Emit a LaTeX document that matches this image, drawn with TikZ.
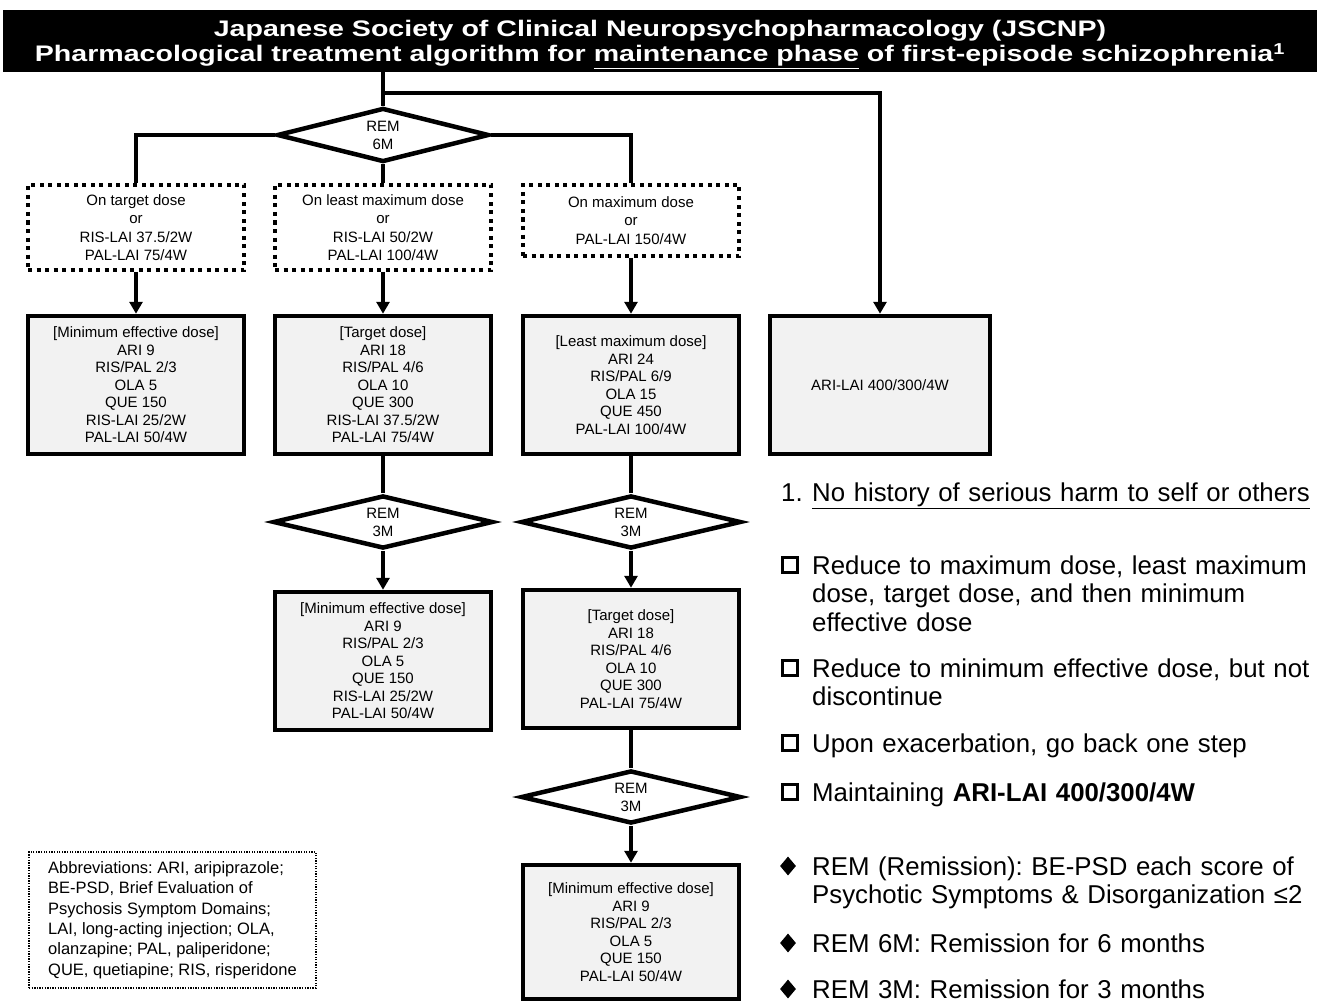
\documentclass[tikz,border=0pt]{standalone}
\usepackage{fontspec}
\usepackage{graphicx}
\setmainfont{Liberation Sans}
\frenchspacing
\usetikzlibrary{arrows.meta,shapes.geometric}
\definecolor{boxgray}{HTML}{F2F2F2}
\begin{document}
\begin{tikzpicture}[x=1pt,y=-1pt,
  conn/.style={line width=4pt},
  arr/.style={line width=4pt,-{Triangle[length=12pt,width=13pt]}},
  dosebox/.style={draw,line width=4.5pt,fill=boxgray,minimum width=216pt,minimum height=138pt,inner sep=0pt,align=center,font=\fontsize{15}{17.5}\selectfont},
  condbox/.style={draw,line width=3.5pt,dash pattern=on 4pt off 4.5pt,minimum width=216pt,minimum height=85pt,inner sep=0pt,align=center,font=\fontsize{15}{18.3}\selectfont},
  remdia/.style={draw,diamond,aspect=4,line width=4.5pt,fill=white,minimum width=220pt,minimum height=53pt,inner sep=0pt,align=center,font=\fontsize{15}{18}\selectfont},
  legend/.style={anchor=base west,inner sep=0pt,text width=520pt,align=left,font=\fontsize{25.8}{28.5}\selectfont},
  sqbullet/.style={draw,line width=3.5pt,minimum size=15pt,inner sep=0pt},
  dibullet/.style={diamond,fill=black,minimum width=16pt,minimum height=19pt,inner sep=0pt,aspect=0.83}
]
\fill[white] (0,0) rectangle (1319,1003);
\useasboundingbox (0,0) rectangle (1319,1003);

% title
\node[fill=black,text=white,minimum width=1314pt,minimum height=62pt,inner sep=0pt,font=\bfseries\fontsize{22.5}{25}\selectfont] (title) at (660,41) {\raisebox{-3.5pt}[\height][\depth]{\scalebox{1.27}[1]{\begin{tabular}{@{}c@{}}Japanese Society of Clinical Neuropsychopharmacology (JSCNP)\\Pharmacological treatment algorithm for \underline{maintenance phase} of first-episode schizophrenia\smash{\textsuperscript{1}}\end{tabular}}}};

% decision diamonds
\node[remdia,minimum width=212pt,minimum height=54pt] (m1) at (383,135) {REM\\6M};
\node[remdia] (m2) at (383,522) {REM\\3M};
\node[remdia] (m3) at (631,522) {REM\\3M};
\node[remdia] (m4) at (631,797) {REM\\3M};

% condition boxes
\node[condbox] (dA) at (136,227.5) {On target dose\\or\\RIS-LAI 37.5/2W\\PAL-LAI 75/4W};
\node[condbox] (dB) at (383,227.5) {On least maximum dose\\or\\RIS-LAI 50/2W\\PAL-LAI 100/4W};
\node[condbox,minimum height=71pt] (dC) at (631,220.5) {On maximum dose\\or\\PAL-LAI 150/4W};

% dose boxes
\node[dosebox] (bA) at (136,385) {[Minimum effective dose]\\ARI 9\\RIS/PAL 2/3\\OLA 5\\QUE 150\\RIS-LAI 25/2W\\PAL-LAI 50/4W};
\node[dosebox] (bB) at (383,385) {[Target dose]\\ARI 18\\RIS/PAL 4/6\\OLA 10\\QUE 300\\RIS-LAI 37.5/2W\\PAL-LAI 75/4W};
\node[dosebox] (bC) at (631,385) {[Least maximum dose]\\ARI 24\\RIS/PAL 6/9\\OLA 15\\QUE 450\\PAL-LAI 100/4W};
\node[dosebox,minimum width=220pt] (bD) at (880,385) {ARI-LAI 400/300/4W};
\node[dosebox] (bE) at (383,661) {[Minimum effective dose]\\ARI 9\\RIS/PAL 2/3\\OLA 5\\QUE 150\\RIS-LAI 25/2W\\PAL-LAI 50/4W};
\node[dosebox] (bF) at (631,659) {[Target dose]\\ARI 18\\RIS/PAL 4/6\\OLA 10\\QUE 300\\PAL-LAI 75/4W};
\node[dosebox,minimum height=134pt] (bG) at (631,932) {[Minimum effective dose]\\ARI 9\\RIS/PAL 2/3\\OLA 5\\QUE 150\\PAL-LAI 50/4W};

% connectors
\coordinate (br) at (383,93);
\draw[conn] (m1.north |- title.south) -- (m1.north);
\draw[arr] (br) -| (bD.north);
\draw[conn] (m1.west) -| (dA.north);
\draw[conn] (m1.east) -| (dC.north);
\draw[conn] (m1.south) -- (dB.north);
\draw[arr] (dA.south) -- (bA.north);
\draw[arr] (dB.south) -- (bB.north);
\draw[arr] (dC.south) -- (bC.north);
\draw[conn] (bB.south) -- (m2.north);
\draw[arr] (m2.south) -- (bE.north);
\draw[conn] (bC.south) -- (m3.north);
\draw[arr] (m3.south) -- (bF.north);
\draw[conn] (bF.south) -- (m4.north);
\draw[arr] (m4.south) -- (bG.north);

% legend
\node[legend] (n1) at (781,501) {\makebox[31pt][l]{1.}\underline{No history of serious harm to self or others}};
\node[sqbullet] (s1) at (790,565) {};
\node[legend] (t1) at (812,574) {Reduce to maximum dose, least maximum\\dose, target dose, and then minimum\\effective dose};
\node[sqbullet] (s2) at (790,668) {};
\node[legend] (t2) at (812,677) {Reduce to minimum effective dose, but not\\discontinue};
\node[sqbullet] (s3) at (790,743) {};
\node[legend] (t3) at (812,752) {Upon exacerbation, go back one step};
\node[sqbullet] (s4) at (790,792) {};
\node[legend] (t4) at (812,801) {Maintaining \textbf{ARI-LAI 400/300/4W}};
\node[dibullet] (q1) at (788,866) {};
\node[legend] (t5) at (812,875) {REM (Remission): BE-PSD each score of\\Psychotic Symptoms \& Disorganization ≤2};
\node[dibullet] (q2) at (788,943) {};
\node[legend] (t6) at (812,952) {REM 6M: Remission for 6 months};
\node[dibullet] (q3) at (788,989) {};
\node[legend] (t7) at (812,998) {REM 3M: Remission for 3 months};

% abbreviations
\node[draw,line width=1.2pt,dash pattern=on 1.3pt off 1.3pt,minimum width=287pt,minimum height=136pt,inner sep=0pt,align=left,font=\fontsize{16.5}{20.4}\selectfont] (abbr) at (172.5,920) {Abbreviations: ARI, aripiprazole;\\BE-PSD, Brief Evaluation of\\Psychosis Symptom Domains;\\LAI, long-acting injection; OLA,\\olanzapine; PAL, paliperidone;\\QUE, quetiapine; RIS, risperidone};
\end{tikzpicture}
\end{document}
